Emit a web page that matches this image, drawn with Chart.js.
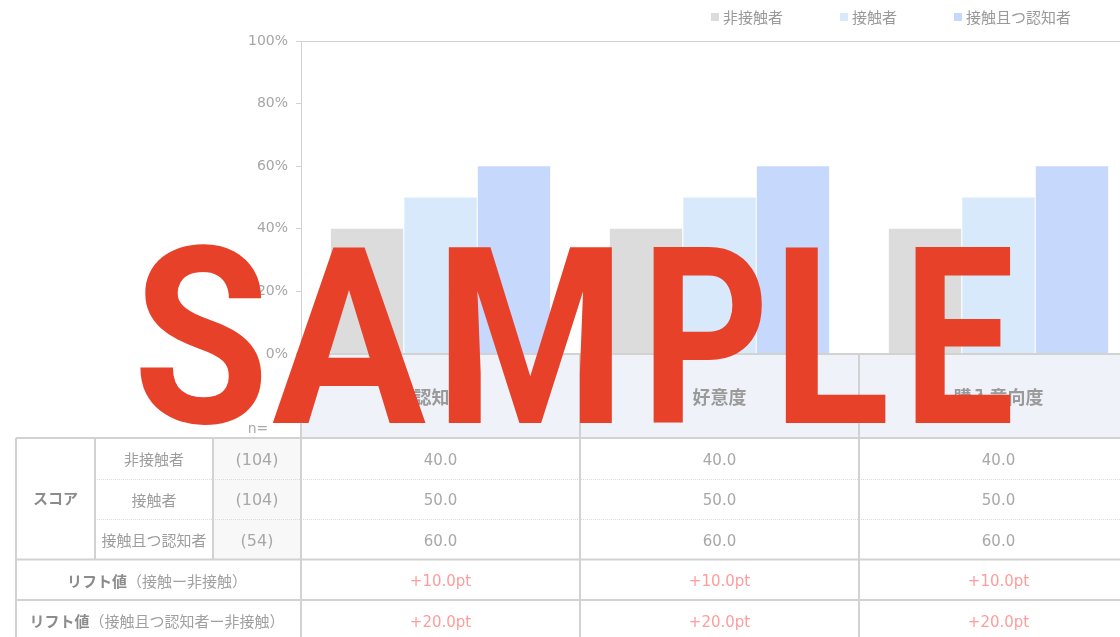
<!DOCTYPE html>
<html lang="ja">
<head>
<meta charset="utf-8">
<script src="https://cdn.jsdelivr.net/npm/chart.js@4.4.1/dist/chart.umd.min.js"></script>
<style>
  html, body { margin: 0; padding: 0; background: #fff; overflow: hidden; }
  #wrap { width: 1120px; height: 637px; overflow: hidden; position: relative; }
  canvas { display: block; }
</style>
</head>
<body>
<div id="wrap"><canvas id="c" width="1138" height="637"></canvas></div>
<script>
// ---- data ----
const categories = ['認知度', '好意度', '購入意向度'];
const seriesNames = ['非接触者', '接触者', '接触且つ認知者'];
const nonContact = [40, 40, 40];
const contact = [50, 50, 50];
const contactAware = [60, 60, 60];
const sampleSizes = ['(104)', '(104)', '(54)'];
const yTickValues = [0, 20, 40, 60, 80, 100];
const liftContact = [10.0, 10.0, 10.0];
const liftContactAware = [20.0, 20.0, 20.0];
const liftLabels = [['リフト値', '（接触ー非接触）'], ['リフト値', '（接触且つ認知者ー非接触）']];
const scoreLabel = 'スコア';
const watermark = 'SAMPLE';

const colors = ['#dcdcdc', '#d9e9fc', '#c6d9fd'];
const JP = '"Noto Sans CJK JP", "Noto Sans", sans-serif';
const NUM = '"DejaVu Sans", "Noto Sans CJK JP", sans-serif';
const GRID = '#d2d2d2';

const tablePlugin = {
  id: 'tablePlugin',
  afterDraw(chart) {
    const ctx = chart.ctx;
    const xs = chart.scales.x, ys = chart.scales.y;
    const L = xs.left, R = xs.right, n = categories.length;
    const cw = (R - L) / n;
    const hTop = ys.bottom, r0 = 438, rh = 40.5;
    const bottom = r0 + 5 * rh;
    const cX = i => L + cw * (i + 0.5);
    ctx.save();

    // header background
    ctx.fillStyle = '#eff3f9';
    ctx.fillRect(L, hTop + 1, R - L, r0 - hTop - 1);
    // n column background
    ctx.fillStyle = '#f8f8f8';
    ctx.fillRect(213, r0, L - 213, 3 * rh);

    // legend
    ctx.textBaseline = 'middle';
    ctx.font = '15px ' + JP;
    let lx = 1071;
    const items = [];
    for (let i = seriesNames.length - 1; i >= 0; i--) {
      const tw = ctx.measureText(seriesNames[i]).width;
      const tx = lx - tw;
      items.push({ i, tx, sx: tx - 12 });
      lx = tx - 12 - 57;
    }
    items.forEach(it => {
      ctx.fillStyle = chart.data.datasets[it.i].backgroundColor;
      ctx.fillRect(it.sx, 13, 8, 8);
      ctx.fillStyle = '#999';
      ctx.textAlign = 'left';
      ctx.fillText(seriesNames[it.i], it.tx, 17);
    });

    // header labels
    ctx.textAlign = 'center';
    ctx.fillStyle = '#9a9a9a';
    ctx.font = 'bold 18px ' + JP;
    categories.forEach((c, i) => ctx.fillText(c, cX(i), 397));
    ctx.font = '14px ' + NUM;
    ctx.fillStyle = '#aaa';
    ctx.fillText('n=', 258, 429);

    // dotted lines
    ctx.lineWidth = 1;
    ctx.strokeStyle = '#dadada';
    ctx.setLineDash([1, 1]);
    [r0 + rh, r0 + 2 * rh].forEach(y => {
      ctx.beginPath(); ctx.moveTo(95, Math.round(y) + 0.5); ctx.lineTo(R, Math.round(y) + 0.5); ctx.stroke();
    });
    ctx.setLineDash([]);

    // solid lines
    ctx.lineWidth = 2;
    ctx.strokeStyle = GRID;
    const hl = (y, x1, x2) => { ctx.beginPath(); ctx.moveTo(x1, y); ctx.lineTo(x2, y); ctx.stroke(); };
    const vl = (x, y1, y2) => { ctx.beginPath(); ctx.moveTo(x, y1); ctx.lineTo(x, y2); ctx.stroke(); };
    hl(r0, 16, R);
    hl(r0 + 3 * rh, 16, R);
    hl(r0 + 4 * rh, 16, R);
    hl(bottom, 16, R);
    vl(16, r0, bottom);
    vl(95, r0, r0 + 3 * rh);
    vl(213, r0, r0 + 3 * rh);
    vl(L, hTop, bottom);
    for (let i = 1; i <= n; i++) vl(L + cw * i, hTop, bottom);

    // score block
    const dy = 2.5;
    ctx.fillStyle = '#8c8c8c';
    ctx.font = 'bold 15px ' + JP;
    ctx.fillText(scoreLabel, 55.5, r0 + 1.5 * rh);
    const series = [nonContact, contact, contactAware];
    series.forEach((arr, r) => {
      const yc = r0 + rh * (r + 0.5) + dy;
      ctx.fillStyle = '#9d9d9d';
      ctx.font = '15px ' + JP;
      ctx.fillText(seriesNames[r], 154, yc - 1);
      ctx.font = '16px ' + NUM;
      ctx.fillStyle = '#a8a8a8';
      ctx.fillText(sampleSizes[r], 257, yc);
      ctx.font = '15px ' + NUM;
      arr.forEach((v, i) => ctx.fillText(v.toFixed(1), cX(i), yc));
    });

    // lift rows
    [liftContact, liftContactAware].forEach((arr, k) => {
      const yc = r0 + rh * (3.5 + k) + dy;
      const [b, t] = liftLabels[k];
      ctx.font = 'bold 15px ' + JP;
      const bw = ctx.measureText(b).width;
      ctx.font = '15px ' + JP;
      const tw = ctx.measureText(t).width;
      const sx = 157 - (bw + tw) / 2;
      ctx.textAlign = 'left';
      ctx.font = 'bold 15px ' + JP;
      ctx.fillStyle = '#8c8c8c';
      ctx.fillText(b, sx, yc - 1);
      ctx.font = '15px ' + JP;
      ctx.fillStyle = '#a0a0a0';
      ctx.fillText(t, sx + bw, yc - 1);
      ctx.textAlign = 'center';
      ctx.font = '15px ' + NUM;
      ctx.fillStyle = '#ff9c9c';
      arr.forEach((v, i) => ctx.fillText('+' + v.toFixed(1) + 'pt', cX(i), yc));
    });

    // watermark
    const spans = [[140, 262], [272, 426], [448, 612], [653, 762], [785, 886], [915, 1011]];
    ctx.font = 'bold 250px Roboto, "Liberation Sans", sans-serif';
    ctx.textBaseline = 'alphabetic';
    ctx.textAlign = 'left';
    ctx.fillStyle = '#e8412a';
    const capH = ctx.measureText('E').actualBoundingBoxAscent;
    const sy = 176 / capH;
    const base = 423;
    watermark.split('').forEach((ch, i) => {
      const m = ctx.measureText(ch);
      const inkW = m.actualBoundingBoxLeft + m.actualBoundingBoxRight;
      const sx = (spans[i][1] - spans[i][0]) / inkW;
      ctx.save();
      ctx.translate(spans[i][0], base);
      ctx.scale(sx, sy);
      ctx.fillText(ch, m.actualBoundingBoxLeft, 0);
      ctx.restore();
    });

    ctx.restore();
  }
};

new Chart(document.getElementById('c'), {
  type: 'bar',
  data: {
    labels: categories,
    datasets: [
      { label: seriesNames[0], data: nonContact, backgroundColor: colors[0] },
      { label: seriesNames[1], data: contact, backgroundColor: colors[1] },
      { label: seriesNames[2], data: contactAware, backgroundColor: colors[2] }
    ]
  },
  options: {
    responsive: false,
    animation: false,
    devicePixelRatio: 1,
    layout: { padding: { top: 41, bottom: 283, left: 0, right: 0 } },
    datasets: { bar: { categoryPercentage: 0.79, barPercentage: 0.985 } },
    plugins: { legend: { display: false }, tooltip: { enabled: false } },
    scales: {
      x: { display: false },
      y: {
        min: 0, max: 100,
        afterBuildTicks: s => { s.ticks = yTickValues.map(v => ({ value: v })); },
        afterFit: s => { s.width = 301; },
        ticks: {
          callback: v => v + '%',
          color: '#a6a6a6',
          font: { family: 'DejaVu Sans', size: 14 },
          padding: 8
        },
        grid: {
          color: c => (c.tick && (c.tick.value === 100 || c.tick.value === 0)) ? GRID : 'rgba(0,0,0,0)',
          lineWidth: c => (c.tick && c.tick.value === 0) ? 2 : 1,
          tickColor: GRID,
          tickLength: 5
        },
        border: { color: GRID, width: 1 }
      }
    }
  },
  plugins: [tablePlugin]
});
</script>
</body>
</html>
